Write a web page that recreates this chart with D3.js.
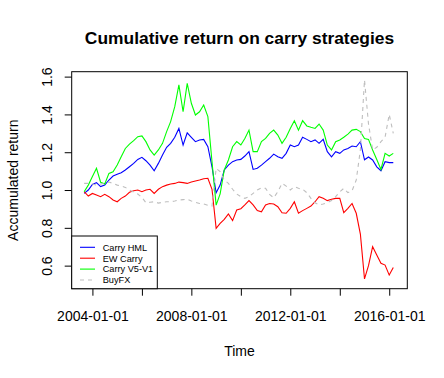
<!DOCTYPE html>
<html>
<head>
<meta charset="utf-8">
<script src="https://cdn.jsdelivr.net/npm/d3@7/dist/d3.min.js"></script>
<style>
  body { margin: 0; background: #fff; }
  svg { display: block; font-family: "Liberation Sans", Arial, sans-serif; }
</style>
</head>
<body>
<div id="graph"></div>
<script>
var dates = [
  "2003-09", "2003-11",
  "2004-01", "2004-03", "2004-05", "2004-07", "2004-09", "2004-11",
  "2005-01", "2005-03", "2005-05", "2005-07", "2005-09", "2005-11",
  "2006-01", "2006-03", "2006-05", "2006-07", "2006-09", "2006-11",
  "2007-01", "2007-03", "2007-05", "2007-07", "2007-09", "2007-11",
  "2008-01", "2008-03", "2008-05", "2008-07", "2008-09", "2008-11",
  "2009-01", "2009-03", "2009-05", "2009-07", "2009-09", "2009-11",
  "2010-01", "2010-03", "2010-05", "2010-07", "2010-09", "2010-11",
  "2011-01", "2011-03", "2011-05", "2011-07", "2011-09", "2011-11",
  "2012-01", "2012-03", "2012-05", "2012-07", "2012-09", "2012-11",
  "2013-01", "2013-03", "2013-05", "2013-07", "2013-09", "2013-11",
  "2014-01", "2014-03", "2014-05", "2014-07", "2014-09", "2014-11",
  "2015-01", "2015-03", "2015-05", "2015-07", "2015-09", "2015-11",
  "2016-01", "2016-03"
];

var carry_hml = [
  0.982, 1.000, 1.030, 1.039, 1.018, 1.026, 1.053, 1.074, 1.083, 1.092,
  1.106, 1.123, 1.141, 1.162, 1.173, 1.155, 1.132, 1.102, 1.141, 1.185,
  1.226, 1.247, 1.279, 1.326, 1.238, 1.303, 1.279, 1.256, 1.265, 1.268,
  1.229, 1.123, 0.985, 1.026, 1.106, 1.132, 1.150, 1.159, 1.162, 1.180,
  1.203, 1.109, 1.115, 1.132, 1.150, 1.168, 1.190, 1.176, 1.168, 1.194,
  1.238, 1.229, 1.238, 1.279, 1.268, 1.256, 1.265, 1.247, 1.268, 1.203,
  1.176, 1.203, 1.194, 1.212, 1.220, 1.233, 1.229, 1.256, 1.160, 1.175,
  1.159, 1.123, 1.102, 1.150, 1.145, 1.145
];

var ew_carry = [
  0.991, 0.968, 0.982, 0.974, 0.965, 0.977, 0.965, 0.947, 0.938, 0.956,
  0.968, 0.988, 0.996, 1.000, 0.991, 1.000, 1.004, 0.982, 1.004, 1.018,
  1.026, 1.032, 1.035, 1.042, 1.039, 1.035, 1.042, 1.048, 1.053, 1.060,
  1.062, 1.004, 0.797, 0.824, 0.845, 0.873, 0.838, 0.894, 0.901, 0.921,
  0.944, 0.921, 0.891, 0.885, 0.921, 0.929, 0.926, 0.912, 0.880, 0.877,
  0.903, 0.938, 0.877, 0.891, 0.903, 0.915, 0.938, 0.965, 0.956, 0.944,
  0.951, 0.956, 0.956, 0.880, 0.903, 0.929, 0.877, 0.767, 0.530, 0.600,
  0.700, 0.656, 0.612, 0.603, 0.550, 0.590
];

var carry_v5v1 = [
  0.991, 1.026, 1.071, 1.115, 1.041, 1.032, 1.088, 1.097, 1.132, 1.176,
  1.220, 1.243, 1.261, 1.282, 1.286, 1.256, 1.212, 1.185, 1.212, 1.247,
  1.309, 1.362, 1.441, 1.556, 1.414, 1.564, 1.459, 1.397, 1.414, 1.450,
  1.388, 1.150, 0.920, 0.980, 1.106, 1.159, 1.229, 1.256, 1.238, 1.273,
  1.317, 1.203, 1.203, 1.256, 1.273, 1.300, 1.317, 1.291, 1.247, 1.279,
  1.326, 1.367, 1.317, 1.367, 1.339, 1.332, 1.326, 1.349, 1.317, 1.238,
  1.212, 1.256, 1.265, 1.279, 1.296, 1.317, 1.321, 1.309, 1.273, 1.268,
  1.212, 1.162, 1.109, 1.194, 1.180, 1.194
];

var buy_fx = [
  1.035, 1.035, 1.032, 1.026, 1.032, 1.035, 1.042, 1.035, 1.026, 1.021,
  1.014, 1.000, 0.989, 0.979, 0.961, 0.933, 0.935, 0.938, 0.931, 0.935,
  0.938, 0.938, 0.942, 0.947, 0.949, 0.951, 0.942, 0.935, 0.929, 0.926,
  0.919, 0.915, 1.115, 1.097, 1.053, 1.035, 1.004, 0.979, 0.965, 0.956,
  0.965, 0.982, 1.000, 1.012, 1.009, 0.977, 0.959, 0.991, 1.035, 1.021,
  1.000, 1.018, 1.009, 1.004, 0.986, 0.956, 0.933, 0.921, 0.926, 0.933,
  0.944, 0.965, 0.991, 1.009, 0.986, 0.996, 1.053, 1.212, 1.582, 1.350,
  1.212, 1.226, 1.256, 1.280, 1.400, 1.300
];

var series_names = ["Carry HML", "EW Carry", "Carry V5-V1", "BuyFX"];
var series_values = [carry_hml, ew_carry, carry_v5v1, buy_fx];
var series_colors = ["#0000ff", "#ff0000", "#00ff00", "#bebebe"];
var series_dash = [null, null, null, "4,4"];

var x_ticks = ["2004-01-01", "2006-01-01", "2008-01-01", "2010-01-01",
               "2012-01-01", "2014-01-01", "2016-01-01"];
var x_labels = ["2004-01-01", "", "2008-01-01", "", "2012-01-01", "", "2016-01-01"];
var y_ticks = [0.6, 0.8, 1.0, 1.2, 1.4, 1.6];

var WIDTH = 444;
var HEIGHT = 378;
var PLOT = {left: 71.7, right: 407.3, top: 71.7, bottom: 288.7};

var parse_month = d3.timeParse("%Y-%m");
var parse_day = d3.timeParse("%Y-%m-%d");
var times = dates.map(parse_month);

// R style 4% padding around the data range
var xscale = d3.scaleTime()
               .domain([parse_day("2003-03-01"), parse_day("2016-09-24")])
               .range([PLOT.left, PLOT.right]);

var yscale = d3.scaleLinear()
               .domain([0.478, 1.626])
               .range([PLOT.bottom, PLOT.top]);

var svg = d3.select("#graph")
            .append("svg")
              .attr("width", WIDTH)
              .attr("height", HEIGHT);

// Title
svg.append("text")
   .attr("x", (PLOT.left + PLOT.right) / 2)
   .attr("y", 44)
   .attr("text-anchor", "middle")
   .style("font-size", "17.4px")
   .style("font-weight", "bold")
   .text("Cumulative return on carry strategies");

// Lines
var line = d3.line()
             .x(function (d, i) { return xscale(times[i]); })
             .y(function (d) { return yscale(d); });

series_values.forEach(function (values, k) {
  svg.append("path")
     .datum(values)
     .attr("d", line)
     .attr("fill", "none")
     .attr("stroke", series_colors[k])
     .attr("stroke-width", 1.1)
     .attr("stroke-dasharray", series_dash[k]);
});

// Axes
var x_axis = d3.axisBottom(xscale)
               .tickValues(x_ticks.map(parse_day))
               .tickSize(7)
               .tickFormat(function (d, i) { return x_labels[i]; });

var y_axis = d3.axisLeft(yscale)
               .tickValues(y_ticks)
               .tickSize(7)
               .tickFormat(d3.format(".1f"));

var x_g = svg.append("g")
             .attr("transform", "translate(0," + PLOT.bottom + ")")
             .call(x_axis);
x_g.selectAll("text")
   .attr("y", 0)
   .attr("dy", null)
   .attr("transform", "translate(0,32.5)")
   .style("font-size", "14px")
   .attr("fill", "#000");

var y_g = svg.append("g")
             .attr("transform", "translate(" + PLOT.left + ",0)")
             .call(y_axis);
y_g.selectAll("text")
   .attr("x", null)
   .attr("dy", null)
   .attr("text-anchor", "middle")
   .attr("transform", "translate(-20,0) rotate(-90)")
   .style("font-size", "14px")
   .attr("fill", "#000");

svg.selectAll(".domain").remove();
svg.selectAll(".tick line").attr("stroke", "#000");
svg.selectAll(".tick text").style("font-family", "'Liberation Sans', Arial, sans-serif");

// Plot box
svg.append("rect")
   .attr("x", PLOT.left)
   .attr("y", PLOT.top)
   .attr("width", PLOT.right - PLOT.left)
   .attr("height", PLOT.bottom - PLOT.top)
   .attr("fill", "none")
   .attr("stroke", "#000");

// Axis titles
svg.append("text")
   .attr("x", (PLOT.left + PLOT.right) / 2)
   .attr("y", 356)
   .attr("text-anchor", "middle")
   .style("font-size", "14px")
   .text("Time");

svg.append("text")
   .attr("transform", "translate(18," + ((PLOT.top + PLOT.bottom) / 2) + ") rotate(-90)")
   .attr("text-anchor", "middle")
   .style("font-size", "14px")
   .text("Accumulated return");

// Legend (bottom left)
var legend = svg.append("g");
legend.append("rect")
      .attr("x", PLOT.left)
      .attr("y", 236)
      .attr("width", 157.3 - PLOT.left)
      .attr("height", PLOT.bottom - 236)
      .attr("fill", "#fff")
      .attr("stroke", "#000");

var rows = legend.selectAll("g.row")
                 .data(series_names)
                 .enter()
                 .append("g")
                   .attr("class", "row")
                   .attr("transform", function (d, i) { return "translate(0," + (247.3 + i * 10.9) + ")"; });

rows.append("line")
    .attr("x1", 80).attr("x2", 95)
    .attr("y1", 0).attr("y2", 0)
    .attr("stroke", function (d, i) { return series_colors[i]; })
    .attr("stroke-width", 1.1)
    .attr("stroke-dasharray", function (d, i) { return series_dash[i]; });

rows.append("text")
    .attr("x", 102.7)
    .attr("y", 3.3)
    .style("font-size", "9.2px")
    .text(function (d) { return d; });
</script>
</body>
</html>
